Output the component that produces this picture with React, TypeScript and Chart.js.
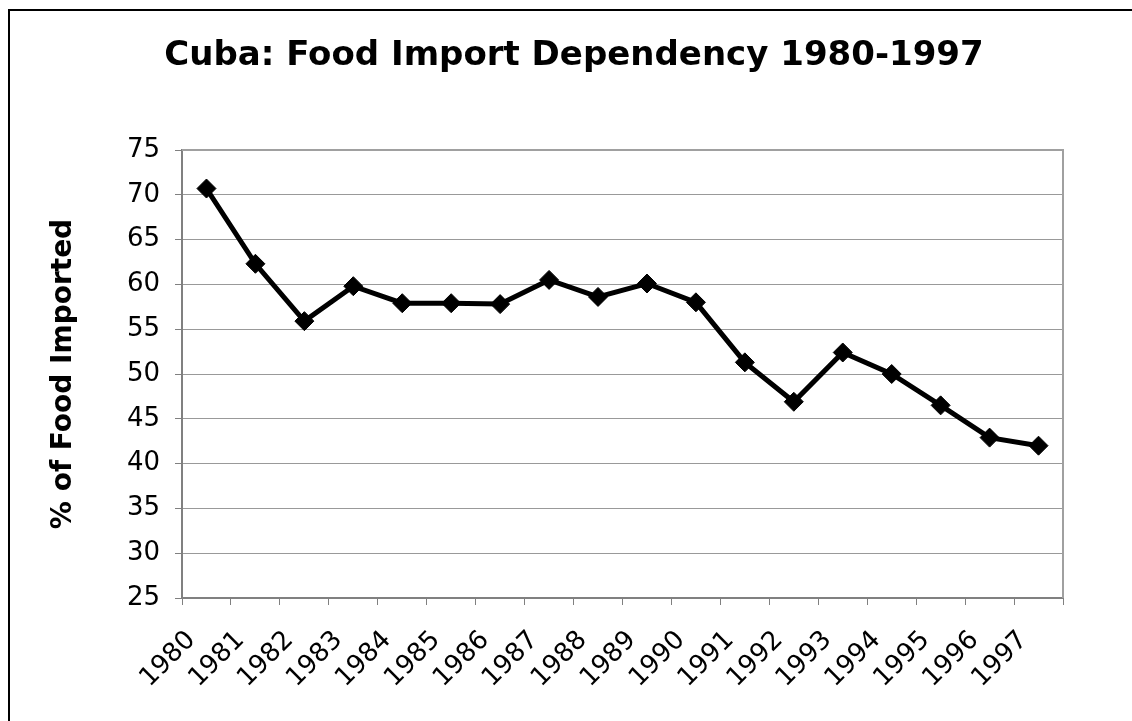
import React, { useEffect, useRef } from "react";
import { Chart, registerables } from "chart.js";

Chart.register(...registerables);

const titleText = "Cuba: Food Import Dependency 1980-1997";
const yAxisTitle = "% of Food Imported";
const years = ["1980","1981","1982","1983","1984","1985","1986","1987","1988","1989","1990","1991","1992","1993","1994","1995","1996","1997"];
const foodImported = [70.7, 62.3, 55.9, 59.8, 57.9, 57.9, 57.8, 60.5, 58.6, 60.1, 58.0, 51.3, 46.9, 52.4, 50.0, 46.5, 42.9, 42.0];
const yMin = 25;
const yMax = 75;
const yStep = 5;

const FONT = "'DejaVu Sans', Verdana, sans-serif";

const plotFrame = {
  id: "plotFrame",
  afterDraw(chart: any) {
    const { ctx, chartArea } = chart;
    ctx.save();
    ctx.strokeStyle = "#a0a0a0";
    ctx.lineWidth = 2;
    ctx.beginPath();
    ctx.moveTo(chartArea.left, chartArea.top);
    ctx.lineTo(chartArea.right, chartArea.top);
    ctx.lineTo(chartArea.right, chartArea.bottom);
    ctx.stroke();
    // chart title
    ctx.fillStyle = "#000";
    ctx.font = `bold 34px ${FONT}`;
    ctx.textAlign = "center";
    ctx.textBaseline = "alphabetic";
    ctx.fillText(titleText, 574, 65);
    ctx.restore();
  },
};

export default function App() {
  const ref = useRef<HTMLCanvasElement | null>(null);
  useEffect(() => {
    if (!ref.current) return;
    const chart = new Chart(ref.current, {
      type: "line",
      data: {
        labels: years,
        datasets: [
          {
            data: foodImported,
            borderColor: "#000",
            backgroundColor: "#000",
            borderWidth: 5,
            pointStyle: "rectRot",
            pointRadius: 9.5,
            pointBorderWidth: 1,
            pointBackgroundColor: "#000",
            pointBorderColor: "#000",
            tension: 0,
            fill: false,
          },
        ],
      },
      options: {
        responsive: false,
        animation: false,
        layout: { padding: { left: 0, right: 69, top: 150, bottom: 0 } },
        plugins: {
          legend: { display: false },
          tooltip: { enabled: false },
          title: { display: false },
        },
        scales: {
          x: {
            type: "category",
            offset: true,
            grid: {
              offset: true,
              drawOnChartArea: false,
              drawTicks: true,
              tickLength: 7,
              tickColor: "#808080",
              tickWidth: 1,
            },
            border: { display: true, color: "#808080", width: 2 },
            ticks: {
              color: "#000",
              font: { family: FONT, size: 26 },
              minRotation: 45,
              maxRotation: 45,
              autoSkip: false,
              padding: 20,
              labelOffset: -15,
            },
            afterFit: (s: any) => {
              s.height = 123;
            },
          },
          y: {
            min: yMin,
            max: yMax,
            ticks: {
              stepSize: yStep,
              color: "#000",
              font: { family: FONT, size: 26 },
              padding: 15,
            },
            grid: {
              color: "#999999",
              lineWidth: 1,
              tickLength: 7,
              tickColor: "#808080",
            },
            border: { display: true, color: "#808080", width: 2 },
            title: {
              display: true,
              text: yAxisTitle,
              color: "#000",
              font: { family: FONT, size: 28, weight: "bold", lineHeight: 1.2 },
              padding: { top: 46.6, bottom: 0 },
            },
            afterFit: (s: any) => {
              s.width = 182;
            },
          },
        },
      },
      plugins: [plotFrame],
    });
    return () => chart.destroy();
  }, []);

  return (
    <>
      <div
        style={{
          position: "absolute",
          left: 8,
          top: 9,
          width: 1300,
          height: 900,
          borderTop: "2px solid #000",
          borderLeft: "2px solid #000",
          boxSizing: "border-box",
        }}
      />
      <canvas
        ref={ref}
        width={1132}
        height={721}
        style={{ position: "absolute", left: 0, top: 0, width: 1132, height: 721 }}
      />
    </>
  );
}
